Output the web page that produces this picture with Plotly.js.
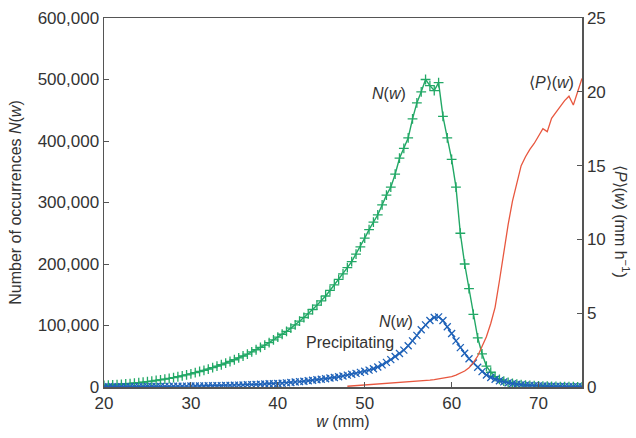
<!DOCTYPE html>
<html>
<head>
<meta charset="utf-8">
<script src="https://cdn.plot.ly/plotly-3.0.1.min.js"></script>
<style>html,body{margin:0;padding:0;background:#fff;}#chart{width:636px;height:438px;}</style>
</head>
<body>
<div id="chart"></div>
<script>
// Column water vapour w (mm), 0.5 mm bins
const wBins = [20,20.5,21,21.5,22,22.5,23,23.5,24,24.5,25,25.5,26,26.5,27,27.5,28,28.5,29,29.5,
  30,30.5,31,31.5,32,32.5,33,33.5,34,34.5,35,35.5,36,36.5,37,37.5,38,38.5,39,39.5,
  40,40.5,41,41.5,42,42.5,43,43.5,44,44.5,45,45.5,46,46.5,47,47.5,48,48.5,49,49.5,
  50,50.5,51,51.5,52,52.5,53,53.5,54,54.5,55,55.5,56,56.5,57,57.5,58,58.5,59,59.5,
  60,60.5,61,61.5,62,62.5,63,63.5,64,64.5,65,65.5,66,66.5,67,67.5,68,68.5,69,69.5,
  70,70.5,71,71.5,72,72.5,73,73.5,74,74.5,75];

// N(w), all occurrences
const nAll = [2500,3000,3400,3900,4400,5000,5600,6300,7000,7800,8700,9600,10600,11600,12800,14000,15300,16700,18200,19800,
  21500,23300,25200,27100,29200,31400,33800,36200,38800,41500,44300,47300,50400,53600,57000,60600,64300,68200,72300,76600,
  81000,85800,90500,95800,101000,107000,113000,119000,126000,133000,140000,148000,157000,166000,175000,184000,194000,204000,216000,228000,
  242000,256000,268000,280000,296000,312000,325000,346000,372000,388000,405000,436000,462000,480000,500000,490000,482000,495000,440000,405000,
  370000,325000,250000,200000,160000,118000,80000,54000,34000,24000,17000,12500,9500,7500,6000,4800,3900,3200,2600,2100,
  1800,1500,1200,1000,850,700,600,500,400,350,300];

// N(w), precipitating
const nPrecip = [300,300,350,400,400,450,500,550,600,650,700,750,800,900,950,1000,1100,1200,1300,1400,
  1500,1600,1700,1800,1900,2000,2200,2300,2500,2700,2900,3100,3300,3600,3900,4200,4500,4900,5200,5400,
  5600,6100,6700,7300,8000,8700,9400,10100,10900,11700,12500,13500,14500,15500,16700,18000,19300,20700,22200,23800,
  25500,27500,29800,32500,36000,40000,44500,49500,54500,60000,67000,75000,84000,93000,101000,108000,113000,114000,108000,98000,
  87000,75000,64000,55000,46000,39000,32000,25000,19500,15500,12500,10200,8300,6700,5400,4400,3600,3000,2500,2100,
  1800,1500,1300,1100,950,800,700,600,500,450,400];

// <P>(w), mean precipitation rate (mm/h)
const pBins = [48,48.5,49,49.5,50,50.5,51,51.5,52,52.5,53,53.5,54,54.5,55,55.5,56,56.5,57,57.5,
  58,58.5,59,59.5,60,60.5,61,61.5,62,62.5,63,63.5,64,64.5,65,65.5,66,66.5,67,67.5,
  68,68.5,69,69.5,70,70.5,71,71.5,72,72.5,73,73.5,74,74.5,75];
const pRate = [0.05,0.07,0.09,0.11,0.13,0.15,0.17,0.19,0.21,0.23,0.25,0.27,0.29,0.31,0.33,0.35,0.38,0.41,0.44,0.47,
  0.50,0.54,0.58,0.63,0.70,0.80,0.92,1.08,1.30,1.65,2.1,2.7,3.4,4.3,5.4,7.2,9.2,11.0,12.6,13.8,
  15.0,15.6,16.1,16.5,17.0,17.5,17.3,18.2,18.6,19.0,19.4,19.7,19.1,20.0,20.9];

const xTicks = [20,30,40,50,60,70];
const yTicks = [0,100000,200000,300000,400000,500000,600000];
const y2Ticks = [0,5,10,15,20,25];

const FONT = '"Liberation Sans", Arial, sans-serif';
const TXT = '#333333';
const AX = '#555555';

const traces = [
  {x: wBins, y: nAll, type: 'scatter', mode: 'lines+markers', name: 'N(w)',
   line: {color: '#22a866', width: 1.4},
   marker: {symbol: 'cross-thin-open', size: 7, line: {color: '#22a866', width: 1.3}}},
  {x: wBins, y: nPrecip, type: 'scatter', mode: 'lines+markers', name: 'N(w) precipitating',
   line: {color: '#1f62b8', width: 1.4},
   marker: {symbol: 'x-thin-open', size: 7, line: {color: '#2a74cc', width: 1.3}}},
  {x: pBins, y: pRate, type: 'scatter', mode: 'lines', name: '<P>(w)', yaxis: 'y2',
   line: {color: '#e8573f', width: 1.3}}
];

const layout = {
  width: 636, height: 438,
  margin: {l: 104, r: 54, t: 18, b: 51},
  paper_bgcolor: '#ffffff', plot_bgcolor: '#ffffff',
  showlegend: false,
  font: {family: FONT, color: TXT, size: 17},
  xaxis: {
    range: [20, 75], tickvals: xTicks, ticks: 'inside', ticklen: 5, tickcolor: AX,
    showline: true, linecolor: AX, linewidth: 1.5, mirror: true, showgrid: false, zeroline: false,
    tickfont: {size: 17, color: TXT},
    title: {text: '<i>w</i> (mm)', font: {size: 16, color: TXT}, standoff: 0}
  },
  yaxis: {
    range: [0, 600000], tickvals: yTicks, tickformat: ',d', ticks: 'inside', ticklen: 5, tickcolor: AX,
    showline: true, linecolor: AX, linewidth: 1.5, showgrid: false, zeroline: false,
    tickfont: {size: 17, color: TXT},
    title: {text: 'Number of occurrences <i>N</i>(<i>w</i>)', font: {size: 16, color: TXT}, standoff: 12}
  },
  yaxis2: {
    range: [0, 25], tickvals: y2Ticks, overlaying: 'y', side: 'right', ticks: 'inside', ticklen: 5, tickcolor: AX,
    showline: true, linecolor: AX, linewidth: 1.5, showgrid: false, zeroline: false,
    tickfont: {size: 17, color: TXT}
  },
  annotations: [
    {xref: 'x', yref: 'y', x: 55.0, y: 478000, xanchor: 'right', yanchor: 'middle', showarrow: false,
     text: '<i>N</i>(<i>w</i>)', font: {size: 16, color: TXT}},
    {xref: 'x', yref: 'y', x: 55.8, y: 106000, xanchor: 'right', yanchor: 'middle', showarrow: false,
     text: '<i>N</i>(<i>w</i>)', font: {size: 16, color: TXT}},
    {xref: 'x', yref: 'y', x: 48.3, y: 73000, xanchor: 'center', yanchor: 'middle', showarrow: false,
     text: 'Precipitating', font: {size: 16, color: TXT}},
    {xref: 'x', yref: 'y2', x: 74.3, y: 20.6, xanchor: 'right', yanchor: 'middle', showarrow: false,
     text: '⟨<i>P</i>⟩(<i>w</i>)', font: {size: 16, color: TXT}},
    {xref: 'paper', yref: 'paper', x: 1.0, xshift: 40, y: 0.45, xanchor: 'center', yanchor: 'middle', showarrow: false,
     textangle: 90, text: '⟨<i>P</i>⟩(<i>w</i>) (mm h<sup>−1</sup>)', font: {size: 16, color: TXT}}
  ]
};

Plotly.newPlot('chart', traces, layout, {displayModeBar: false, staticPlot: true});
</script>
</body>
</html>
